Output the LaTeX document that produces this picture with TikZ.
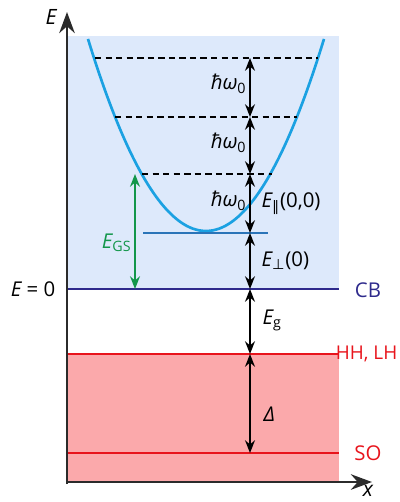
\documentclass[tikz,border=0pt]{standalone}
\usepackage{fontspec}
\setmainfont{Open Sans}
\newfontfamily\symfont{DejaVu Sans}
\usetikzlibrary{arrows.meta}
\definecolor{cbfill}{HTML}{DDE9FB}
\definecolor{vbfill}{HTML}{FBA9AB}
\definecolor{cbline}{HTML}{2E2A8C}
\definecolor{vbline}{HTML}{E8141C}
\definecolor{parab}{HTML}{1BA1E2}
\definecolor{gsline}{HTML}{2A74B8}
\definecolor{gsgreen}{HTML}{12964A}
\definecolor{axisgray}{HTML}{2B2B2B}

\begin{document}
\begin{tikzpicture}[
        x=0.025cm, y=-0.025cm,
        axis/.style={line width=2pt, draw=axisgray, -{Stealth[length=15pt, width=11pt]}},
        dbl/.style={line width=1.6pt, {Stealth[length=9pt, width=7pt]}-{Stealth[length=9pt, width=7pt]}},
        level/.style={line width=1.4pt, dash pattern=on 4.5pt off 3pt},
        band/.style={line width=1.7pt},
        lbl/.style={font=\fontsize{14.5}{17}\selectfont, inner sep=1pt}
    ]
        \useasboundingbox (0,0) rectangle (400,502);

        % Bands
        \fill[cbfill] (67,36) rectangle (339,289);
        \fill[vbfill] (67,354) rectangle (339,482);

        % Parabola and levels
        \draw[parab, line width=1.9pt, domain=88:324, samples=80, smooth]
            plot (\x, {231-0.0138*(\x-206)^2});
        \draw[level] (95,58) -- (318,58);
        \draw[level] (115,117) -- (297,117);
        \draw[level] (142,174) -- (272,174);
        \draw[gsline, line width=1.7pt] (143,233) -- (268,233);

        % Band edges
        \draw[band, cbline] (67,289) -- (339,289);
        \draw[band, vbline] (67,354) -- (339,354);
        \draw[band, vbline] (67,453) -- (339,453);

        % Axes
        \coordinate (origin) at (67,482);
        \coordinate (Etop) at (67,12);
        \coordinate (xend) at (372,482);
        \draw[axis] (67,484) -- (Etop);
        \draw[axis] (66,482) -- (xend);
        \node[lbl, font=\fontsize{15}{17}\selectfont\itshape] (Elabel) at (51,17) {E};
        \node[lbl, font=\fontsize{15}{17}\selectfont\itshape] (xlabel) at (368,491) {x};
        \node[lbl, anchor=east] (Ezero) at (57,289) {{\itshape E} = 0};

        % Level markers
        \coordinate (l1) at (250,58);
        \coordinate (l2) at (250,117);
        \coordinate (l3) at (250,174);
        \coordinate (gs) at (250,233);
        \coordinate (cb) at (250,289);
        \coordinate (hh) at (250,354);
        \coordinate (so) at (250,453);

        % Arrows
        \draw[dbl] (l1) -- (l2);
        \draw[dbl] (l2) -- (l3);
        \draw[dbl] (l3) -- (gs);
        \draw[dbl] (gs) -- (cb);
        \draw[dbl] (cb) -- (hh);
        \draw[dbl] (hh) -- (so);
        \coordinate (gtop) at (135,174);
        \coordinate (gbot) at (135,289);
        \draw[dbl, gsgreen] (gtop) -- (gbot);

        % Labels
        \node[lbl, anchor=east] (w1) at (248,84) {{\itshape ħω}\textsubscript{0}};
        \node[lbl, anchor=east] (w2) at (248,143) {{\itshape ħω}\textsubscript{0}};
        \node[lbl, anchor=east] (w3) at (248,201) {{\itshape ħω}\textsubscript{0}};
        \node[lbl, anchor=west] (Epar) at (260,204) {{\itshape E}\textsubscript{\symfont ∥}(0,0)};
        \node[lbl, anchor=west] (Eperp) at (260,261) {{\itshape E}\textsubscript{\symfont ⊥}(0)};
        \node[lbl, anchor=west] (Eg) at (261,320) {{\itshape E}\textsubscript{g}};
        \node[lbl, anchor=west] (Delta) at (262,414) {\itshape Δ};
        \node[lbl, anchor=east, text=gsgreen] (Egs) at (133,243) {{\itshape E}\textsubscript{GS}};
        \node[lbl, text=cbline] (CB) at (368,290) {CB};
        \node[lbl, font=\fontsize{13.5}{16}\selectfont, anchor=east, text=vbline] (HH) at (399,354) {HH, LH};
        \node[lbl, text=vbline] (SO) at (368,453) {SO};
    \end{tikzpicture}
\end{document}
